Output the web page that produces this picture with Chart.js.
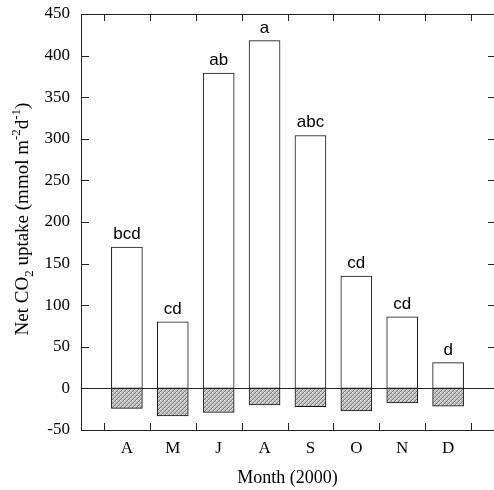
<!DOCTYPE html>
<html>
<head>
<meta charset="utf-8">
<script src="https://cdn.jsdelivr.net/npm/chart.js@4.4.0/dist/chart.umd.min.js"></script>
<style>
  html, body { margin: 0; padding: 0; background: #fff; overflow: hidden; }
  #wrap { width: 494px; height: 490px; }
</style>
</head>
<body>
<div id="wrap"><canvas id="myChart" width="494" height="490"></canvas></div>
<script>
// meses de 2000 (abril a diciembre)
var months = ["A", "M", "J", "A", "S", "O", "N", "D"];
var uptakePos = [170, 80, 379, 418, 304, 135, 86, 31];
var uptakeNeg = [-24, -33, -29, -20, -22, -27, -17.5, -21.5];
var letters = ["bcd", "cd", "ab", "a", "abc", "cd", "cd", "d"];
var yTicks = [-50, 0, 50, 100, 150, 200, 250, 300, 350, 400, 450];

var serif = "'Liberation Serif', 'Times New Roman', serif";
var sans = "'Liberation Sans', Arial, sans-serif";

// patron rayado para la parte negativa
function hatch() {
  var c = document.createElement("canvas");
  c.width = 4; c.height = 4;
  var g = c.getContext("2d");
  g.fillStyle = "#c4c4c4";
  g.fillRect(0, 0, 4, 4);
  g.fillStyle = "#e6e6e6";
  g.fillRect(0, 0, 1, 1);
  g.fillRect(2, 2, 1, 1);
  g.strokeStyle = "#7a7a7a";
  g.lineWidth = 1;
  g.beginPath();
  g.moveTo(0, 4); g.lineTo(4, 0);
  g.moveTo(-1, 1); g.lineTo(1, -1);
  g.moveTo(3, 5); g.lineTo(5, 3);
  g.stroke();
  return g.createPattern(c, "repeat");
}

// marco, linea del cero, marcas hacia adentro, letras y titulos
var frame = {
  id: "frame",
  afterDatasetsDraw: function (chart) {
    var ctx = chart.ctx, a = chart.chartArea;
    var xs = chart.scales.x, ys = chart.scales.y;
    ctx.save();
    ctx.strokeStyle = "#222";
    ctx.lineWidth = 1;
    ctx.beginPath();
    ctx.moveTo(a.left + 0.5, a.top + 0.5); ctx.lineTo(a.left + 0.5, a.bottom + 0.5);
    ctx.moveTo(a.left, a.bottom + 0.5); ctx.lineTo(a.right, a.bottom + 0.5);
    ctx.moveTo(a.left, a.top + 0.5); ctx.lineTo(a.right, a.top + 0.5);
    var z = Math.round(ys.getPixelForValue(0)) + 0.5;
    ctx.moveTo(a.left, z); ctx.lineTo(a.right, z);
    yTicks.forEach(function (v) {
      var y = Math.round(ys.getPixelForValue(v)) + 0.5;
      ctx.moveTo(a.left, y); ctx.lineTo(a.left + 8, y);
      ctx.moveTo(a.right, y); ctx.lineTo(a.right - 6, y);
    });
    for (var i = 0; i <= months.length; i++) {
      var x = Math.round(xs.getPixelForValue(i + 0.5)) + 0.5;
      ctx.moveTo(x, a.bottom); ctx.lineTo(x, a.bottom - 7);
      ctx.moveTo(x, a.top); ctx.lineTo(x, a.top + 7);
    }
    ctx.stroke();

    // letras de significancia
    ctx.fillStyle = "#000";
    ctx.font = "17px " + sans;
    ctx.textAlign = "center";
    ctx.textBaseline = "alphabetic";
    chart.getDatasetMeta(0).data.forEach(function (bar, i) {
      ctx.fillText(letters[i], bar.x, bar.y - 8);
    });

    // titulo eje x
    ctx.font = "18px " + serif;
    ctx.textBaseline = "middle";
    ctx.fillText("Month (2000)", (a.left + a.right) / 2, 478);

    // titulo eje y con subindices y superindices
    var parts = [
      { t: "Net CO", s: 19, dy: 0 },
      { t: "2", s: 13, dy: 5 },
      { t: " uptake (mmol m", s: 19, dy: 0 },
      { t: "-2", s: 13, dy: -8 },
      { t: "d", s: 19, dy: 0 },
      { t: "-1", s: 13, dy: -8 },
      { t: ")", s: 19, dy: 0 }
    ];
    var total = 0;
    parts.forEach(function (p) {
      ctx.font = p.s + "px " + serif;
      p.w = ctx.measureText(p.t).width;
      total += p.w;
    });
    ctx.translate(22, 219);
    ctx.rotate(-Math.PI / 2);
    ctx.textAlign = "left";
    ctx.textBaseline = "alphabetic";
    var px = -total / 2;
    parts.forEach(function (p) {
      ctx.font = p.s + "px " + serif;
      ctx.fillText(p.t, px, 6 + p.dy);
      px += p.w;
    });
    ctx.restore();
  }
};

var graficar = document.getElementById("myChart").getContext("2d");
var myChart = new Chart(graficar, {
  type: "bar",
  data: {
    datasets: [
      {
        label: "pos",
        data: months.map(function (m, i) { return { x: i + 1, y: uptakePos[i] }; }),
        backgroundColor: "#fff",
        borderColor: "#111",
        borderWidth: 1,
        borderSkipped: false,
        barThickness: 31,
        grouped: false
      },
      {
        label: "neg",
        data: months.map(function (m, i) { return { x: i + 1, y: uptakeNeg[i] }; }),
        backgroundColor: hatch(),
        borderColor: "#111",
        borderWidth: 1,
        borderSkipped: false,
        barThickness: 31,
        grouped: false
      }
    ]
  },
  options: {
    responsive: false,
    animation: false,
    layout: { padding: { top: 14, right: 0, left: 0, bottom: 0 } },
    plugins: { legend: { display: false }, tooltip: { enabled: false } },
    scales: {
      x: {
        type: "linear",
        offset: false,
        min: 0,
        max: 9,
        grid: { display: false, drawTicks: false },
        border: { display: false },
        afterBuildTicks: function (scale) {
          scale.ticks = months.map(function (m, i) { return { value: i + 1 }; });
        },
        afterFit: function (scale) {
          scale.height = 60;
          scale.paddingLeft = 0;
          scale.paddingRight = 0;
        },
        ticks: {
          autoSkip: false,
          maxRotation: 0,
          padding: 8,
          color: "#000",
          font: { family: serif, size: 17 },
          callback: function (v) { return months[v - 1]; }
        }
      },
      y: {
        min: -50,
        max: 450,
        grid: { display: false, drawTicks: false },
        border: { display: false },
        afterBuildTicks: function (scale) {
          scale.ticks = yTicks.map(function (v) { return { value: v }; });
        },
        afterFit: function (scale) {
          scale.width = 81;
          scale.paddingTop = 0;
          scale.paddingBottom = 0;
        },
        ticks: {
          padding: 11,
          color: "#000",
          font: { family: serif, size: 17 }
        }
      }
    }
  },
  plugins: [frame]
});
</script>
</body>
</html>
